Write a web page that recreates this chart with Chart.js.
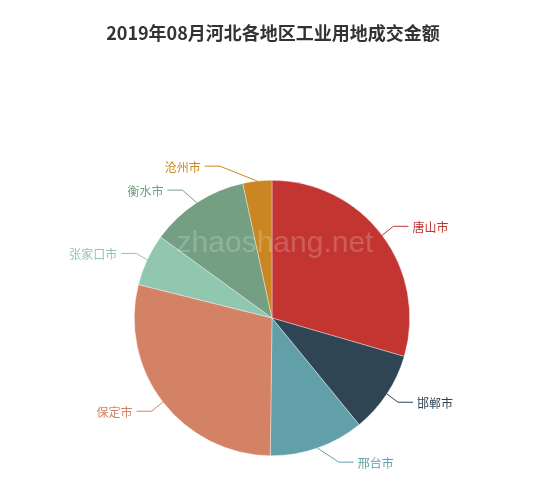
<!DOCTYPE html>
<html>
<head>
<meta charset="utf-8">
<script src="https://cdn.jsdelivr.net/npm/chart.js@4.4.0/dist/chart.umd.min.js"></script>
<style>
html,body{margin:0;padding:0;background:#fff;}
#wrap{width:550px;height:490px;position:relative;}
</style>
</head>
<body>
<div id="wrap"><canvas id="c" width="550" height="490"></canvas></div>
<script>
const titleText = '2019年08月河北各地区工业用地成交金额';
const categories = ['唐山市','邯郸市','邢台市','保定市','张家口市','衡水市','沧州市'];
const values = [29.5, 9.6, 11.1, 28.7, 6.1, 11.6, 3.4];
const colors = ['#c23531','#2f4554','#61a0a8','#d48265','#91c7ae','#749f83','#ca8622'];
const watermark = 'zhaoshang.net';

const labelPlugin = {
  id: 'echartsLabels',
  afterDraw(chart) {
    const ctx = chart.ctx;
    const meta = chart.getDatasetMeta(0);
    const L1 = 15, L2 = 15, GAP = 4;
    const items = [];
    meta.data.forEach((arc, i) => {
      const p = arc.getProps(['x','y','startAngle','endAngle','outerRadius'], true);
      const mid = (p.startAngle + p.endAngle) / 2;
      const cs = Math.cos(mid), sn = Math.sin(mid);
      const r = p.outerRadius;
      const x1 = p.x + r * cs, y1 = p.y + r * sn;
      const y2 = p.y + (r + L1) * sn;
      const dir = cs >= 0 ? 1 : -1;
      items.push({i, x1, y1, y2, dir, cx: p.x, cy: p.y, r});
    });
    // ECharts-like changeX adjustment
    [1, -1].forEach(dir => {
      const side = items.filter(it => it.dir === dir).sort((a, b) => a.y2 - b.y2);
      if (!side.length) return;
      const cy = side[0].cy, cx = side[0].cx, r = side[0].r;
      const R = r + L1 + L2;
      const up = side.filter(it => it.y2 < cy);
      const down = side.filter(it => it.y2 >= cy);
      const change = (list, isDown) => {
        let last = isDown ? Number.MAX_VALUE : 0;
        list.forEach(it => {
          const dy = Math.abs(it.y2 - cy);
          let dx = dy < r + L1 ? Math.sqrt(R * R - dy * dy) : Math.abs(it.x1 - cx);
          if (isDown && dx >= last) dx = last - 10;
          if (!isDown && dx <= last) dx = last + 10;
          it.lx = cx + dx * dir;
          last = dx;
        });
      };
      change(up, false);
      change(down, true);
    });
    ctx.save();
    ctx.font = '12px "Noto Sans CJK SC", "Noto Sans", sans-serif';
    ctx.textBaseline = 'middle';
    ctx.lineWidth = 1;
    items.forEach(it => {
      const col = colors[it.i];
      const x3 = it.lx - it.dir * GAP;
      const x2 = x3 - it.dir * L2;
      ctx.strokeStyle = col;
      ctx.beginPath();
      ctx.moveTo(it.x1, it.y1);
      ctx.lineTo(x2, it.y2);
      ctx.lineTo(x3, it.y2);
      ctx.stroke();
      ctx.fillStyle = col;
      ctx.textAlign = it.dir > 0 ? 'left' : 'right';
      ctx.fillText(categories[it.i], it.lx, it.y2 + 1);
    });
    // title
    ctx.font = 'bold 18px "Noto Sans CJK SC", sans-serif';
    ctx.fillStyle = '#333';
    ctx.textAlign = 'center';
    ctx.textBaseline = 'middle';
    ctx.fillText(titleText, 273, 33);
    ctx.restore();
  },
  afterDatasetsDraw(chart) {
    const ctx = chart.ctx;
    ctx.save();
    ctx.font = '30px "Liberation Sans", Arial, sans-serif';
    ctx.fillStyle = 'rgba(255,255,255,0.2)';
    ctx.textAlign = 'center';
    ctx.textBaseline = 'alphabetic';
    ctx.fillText(watermark, 275, 252);
    ctx.restore();
  }
};

new Chart(document.getElementById('c'), {
  type: 'pie',
  data: {
    labels: categories,
    datasets: [{
      data: values,
      backgroundColor: colors,
      borderColor: 'rgba(255,255,255,0.6)',
      borderWidth: 0.6,
      hoverOffset: 0
    }]
  },
  options: {
    responsive: false,
    devicePixelRatio: 1,
    animation: false,
    layout: { padding: { left: 134, right: 140, top: 180, bottom: 34 } },
    plugins: {
      legend: { display: false },
      tooltip: { enabled: false },
      title: { display: false }
    }
  },
  plugins: [labelPlugin]
});
</script>
</body>
</html>
